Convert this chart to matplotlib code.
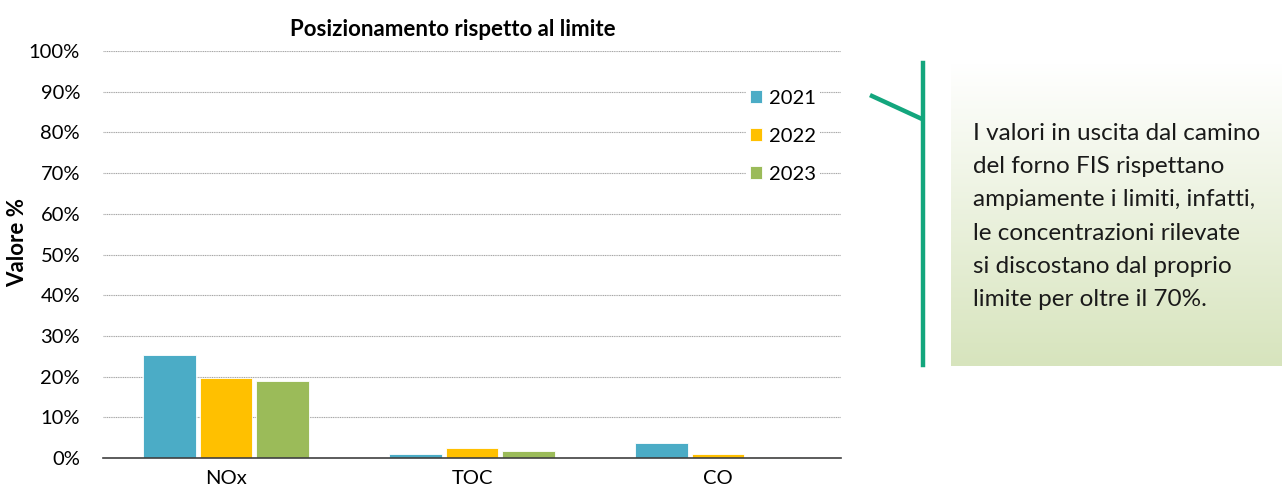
import numpy as np
import matplotlib
matplotlib.use('Agg')
import matplotlib.pyplot as plt
from matplotlib.lines import Line2D
from matplotlib.ticker import PercentFormatter

plt.rcParams['font.family'] = ['Lato', 'DejaVu Sans']

# data (percent of the limit)
categories = ['NOx', 'TOC', 'CO']
years = ['2021', '2022', '2023']
val_2021 = [25.4, 0.9, 3.6]
val_2022 = [19.7, 2.4, 1.1]
val_2023 = [18.8, 1.6, 0.15]
series = [val_2021, val_2022, val_2023]
colors = ['#4bacc6', '#ffc000', '#9bbb59']
yticks = [0, 10, 20, 30, 40, 50, 60, 70, 80, 90, 100]

note = ('I valori in uscita dal camino\n'
        'del forno FIS rispettano\n'
        'ampiamente i limiti, infatti,\n'
        'le concentrazioni rilevate\n'
        'si discostano dal proprio\n'
        'limite per oltre il 70%.')

fig = plt.figure(figsize=(12.82, 5), dpi=100)
ax = fig.add_axes([103/1282, 1-458/500, (841-103)/1282, (458-51)/500])

x = np.arange(len(categories))
w = 0.215
step = 0.228
for i, (vals, c, yr) in enumerate(zip(series, colors, years)):
    ax.bar(x + (i-1)*step, vals, width=w, color=c, edgecolor='white',
           linewidth=0.6, label=yr, zorder=3)

ax.set_xlim(-0.5, 2.5)
ax.set_ylim(0, 100)
ax.set_yticks(yticks)
ax.yaxis.set_major_formatter(PercentFormatter(decimals=0))
ax.set_xticks(x)
ax.set_xticklabels(categories)
ax.tick_params(axis='both', length=0, labelsize=14.5, colors='black')
ax.tick_params(axis='x', pad=9)
ax.tick_params(axis='y', pad=16.5)
ax.yaxis.grid(True, color='#a6a6a6', linewidth=0.8, linestyle=(0, (1, 0.6)), zorder=0)
for s in ['top', 'right', 'left']:
    ax.spines[s].set_visible(False)
ax.spines['bottom'].set_color('#404040')
ax.spines['bottom'].set_linewidth(1.2)
ax.spines['bottom'].set_zorder(4)

ax.set_ylabel('Valore %', fontsize=16, fontweight='bold')
ax.yaxis.set_label_coords(-0.101, 0.53)
ax.set_title('Posizionamento rispetto al limite', fontsize=16,
             fontweight='bold', pad=11, x=0.474)

leg = ax.legend(loc='upper right', bbox_to_anchor=(0.972, 0.915), frameon=True,
                fontsize=14.5, handlelength=0.6, handleheight=0.6,
                handletextpad=0.35, labelspacing=1.05, borderpad=0.2,
                borderaxespad=0)
leg.get_frame().set_edgecolor('none')
leg.get_frame().set_facecolor('white')
leg.get_frame().set_alpha(1)

# side note box with vertical gradient
bx = fig.add_axes([951/1282, 1-366/500, (1282-951)/1282, (366-63)/500])
grad = np.linspace(0, 1, 256)[:, None]
c_top = np.array([1.0, 1.0, 1.0])
c_bot = np.array([0xd7, 0xe4, 0xbd]) / 255
img = c_top + (c_bot - c_top) * grad[:, :, None]
bx.imshow(img, aspect='auto', extent=[0, 1, 0, 1], origin='upper')
bx.axis('off')
fig.text(973/1282, 1-123/500, note, fontsize=17.5, va='top', ha='left',
         linespacing=1.72, color='#1a1a1a')

green = '#13a67d'
fig.add_artist(Line2D([923/1282, 923/1282], [1-63/500, 1-365/500],
                      color=green, linewidth=3.2))
fig.add_artist(Line2D([872/1282, 922/1282], [1-96/500, 1-119/500],
                      color=green, linewidth=3.2))

fig.savefig('out.png', dpi=100)
